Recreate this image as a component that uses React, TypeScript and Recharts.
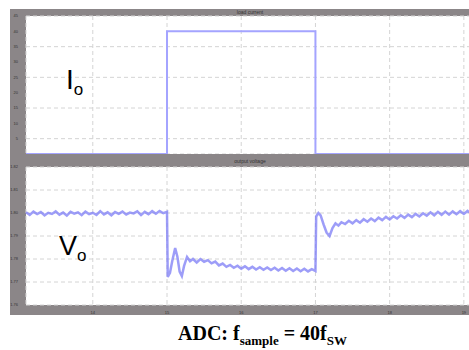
import { LineChart, Line, XAxis, YAxis, CartesianGrid } from "recharts"

// time axis (ms) shared by both panels
const timeTicks = [14, 15, 16, 17, 18, 19]

// load current step
const ioTime = [13.1, 15.0, 15.0, 17.0, 17.0, 19.15]
const ioValues = [0, 0, 40, 40, 0, 0]
const ioTicks = [0, 5, 10, 15, 20, 25, 30, 35, 40, 45]

// output voltage
const voTime = [
  13.1, 13.15, 13.2, 13.25, 13.3, 13.35, 13.4, 13.45, 13.5, 13.55, 13.6, 13.65, 13.7,
  13.75, 13.8, 13.85, 13.9, 13.95, 14.0, 14.05, 14.1, 14.15, 14.2, 14.25, 14.3, 14.35,
  14.4, 14.45, 14.5, 14.55, 14.6, 14.65, 14.7, 14.75, 14.8, 14.85, 14.9, 14.95, 15.0,
  15.01, 15.04, 15.07, 15.11, 15.14, 15.17, 15.2, 15.23, 15.27, 15.31, 15.35, 15.4,
  15.45, 15.5, 15.55, 15.6, 15.65, 15.7, 15.75, 15.8, 15.85, 15.9, 15.95, 16.0, 16.05,
  16.1, 16.15, 16.2, 16.25, 16.3, 16.35, 16.4, 16.45, 16.5, 16.55, 16.6, 16.65, 16.7,
  16.75, 16.8, 16.85, 16.9, 16.95, 17.0,
  17.01, 17.04, 17.07, 17.11, 17.15, 17.19, 17.23, 17.27, 17.31, 17.35, 17.4,
  17.45, 17.5, 17.55, 17.6, 17.65, 17.7, 17.75, 17.8, 17.85, 17.9, 17.95, 18.0, 18.05,
  18.1, 18.15, 18.2, 18.25, 18.3, 18.35, 18.4, 18.45, 18.5, 18.55, 18.6, 18.65, 18.7,
  18.75, 18.8, 18.85, 18.9, 18.95, 19.0, 19.05, 19.1, 19.15,
]
const voValues = [
  1.8003, 1.7992, 1.8006, 1.7995, 1.8004, 1.799, 1.8001, 1.7996, 1.8007, 1.7993, 1.8002,
  1.7989, 1.8005, 1.7997, 1.8003, 1.7991, 1.8006, 1.7995, 1.8001, 1.7992, 1.8008, 1.7994,
  1.8003, 1.799, 1.8004, 1.7996, 1.8006, 1.7993, 1.8002, 1.7998, 1.8007, 1.7991, 1.8005,
  1.7995, 1.8008, 1.7997, 1.8009, 1.7999, 1.8005,
  1.7722, 1.774, 1.779, 1.7848, 1.781, 1.7745, 1.7726, 1.777, 1.7809, 1.779, 1.78, 1.7785,
  1.78, 1.7788, 1.7795, 1.7781, 1.7789, 1.7772, 1.778, 1.7766, 1.7774, 1.7762, 1.7771,
  1.7758, 1.7768, 1.7756, 1.7766, 1.7754, 1.7764, 1.7753, 1.7763, 1.7752, 1.7762, 1.775,
  1.7761, 1.7749, 1.776, 1.7748, 1.7759, 1.7747, 1.7758, 1.7746, 1.7756, 1.7748,
  1.7985, 1.8, 1.799, 1.795, 1.7915, 1.79, 1.7935, 1.7955, 1.7945, 1.796, 1.7952,
  1.7966, 1.7955, 1.7969, 1.7958, 1.7973, 1.7962, 1.7976, 1.7965, 1.798, 1.7969, 1.7983,
  1.7972, 1.7986, 1.7976, 1.799, 1.7979, 1.7993, 1.7982, 1.7996, 1.7985, 1.7999, 1.7988,
  1.8003, 1.799, 1.8005, 1.7992, 1.8006, 1.7993, 1.8007, 1.7995, 1.8008, 1.7996, 1.8009,
  1.7997, 1.8008,
]
const voTicks = [1.76, 1.77, 1.78, 1.79, 1.8, 1.81, 1.82]

const ioData = ioTime.map((t, i) => ({ t, v: ioValues[i] }))
const voData = voTime.map((t, i) => ({ t, v: voValues[i] }))

const frame = "#8b8688"
const trace = "#7c7cf6"
const tickStyle = { fontSize: 4, fill: "#333" }

export default function App() {
  return (
    <div
      style={{
        position: "absolute",
        left: 0,
        top: 0,
        width: 469,
        height: 350,
        overflow: "hidden",
        background: "#fff",
        fontFamily: "Liberation Sans, Arial, sans-serif",
      }}
    >
      <div style={{ position: "absolute", left: 10, top: 9, width: 470, height: 306, background: frame }} />
      <div style={{ position: "absolute", left: 0, top: 0 }}>
        <LineChart width={475} height={154} data={ioData} margin={{ top: 16, right: 0, bottom: 0, left: 0 }}>
          <CartesianGrid fill="#fff" stroke="#d4d4d4" strokeDasharray="4 3" />
          <XAxis dataKey="t" type="number" domain={[13.1, 19.15]} ticks={timeTicks} hide />
          <YAxis
            width={26}
            domain={[0, 45]}
            ticks={ioTicks}
            tick={tickStyle}
            axisLine={false}
            tickLine={false}
          />
          <Line dataKey="v" stroke="#a4a4ff" strokeWidth={2} dot={false} isAnimationActive={false} />
        </LineChart>
      </div>
      <div style={{ position: "absolute", left: 0, top: 0 }}>
        <LineChart width={475} height={322} data={voData} margin={{ top: 167, right: 0, bottom: 7, left: 0 }}>
          <CartesianGrid fill="#fff" stroke="#d4d4d4" strokeDasharray="4 3" />
          <XAxis
            dataKey="t"
            type="number"
            domain={[13.1, 19.15]}
            ticks={timeTicks}
            height={10}
            tick={tickStyle}
            tickMargin={0}
            axisLine={false}
            tickLine={false}
          />
          <YAxis
            width={26}
            domain={[1.76, 1.82]}
            ticks={voTicks}
            tick={tickStyle}
            tickFormatter={(v) => v.toFixed(2)}
            axisLine={false}
            tickLine={false}
          />
          <Line
            dataKey="v"
            stroke={trace}
            strokeOpacity={0.75}
            strokeWidth={2.5}
            dot={false}
            isAnimationActive={false}
          />
        </LineChart>
      </div>
      <div style={{ position: "absolute", left: 220, top: 9, width: 60, textAlign: "center", fontSize: 5, lineHeight: "7px", color: "#333" }}>
        load current
      </div>
      <div style={{ position: "absolute", left: 220, top: 157, width: 60, textAlign: "center", fontSize: 5, lineHeight: "9px", color: "#333" }}>
        output voltage
      </div>
      <div style={{ position: "absolute", left: 66, top: 66, fontSize: 28, lineHeight: "28px", color: "#000" }}>
        I<sub style={{ fontSize: 17, verticalAlign: "-6px" }}>o</sub>
      </div>
      <div style={{ position: "absolute", left: 59, top: 233, fontSize: 27, lineHeight: "27px", color: "#000" }}>
        V<sub style={{ fontSize: 17, verticalAlign: "-6px" }}>o</sub>
      </div>
      <div
        style={{
          position: "absolute",
          left: 0,
          top: 322,
          width: 525,
          textAlign: "center",
          fontFamily: "Liberation Serif, Times New Roman, serif",
          fontWeight: "bold",
          fontSize: 20,
          lineHeight: "22px",
          color: "#000",
        }}
      >
        ADC: f<sub style={{ fontSize: 13, verticalAlign: "-5px" }}>sample</sub> = 40f
        <sub style={{ fontSize: 13, verticalAlign: "-5px" }}>SW</sub>
      </div>
    </div>
  )
}
